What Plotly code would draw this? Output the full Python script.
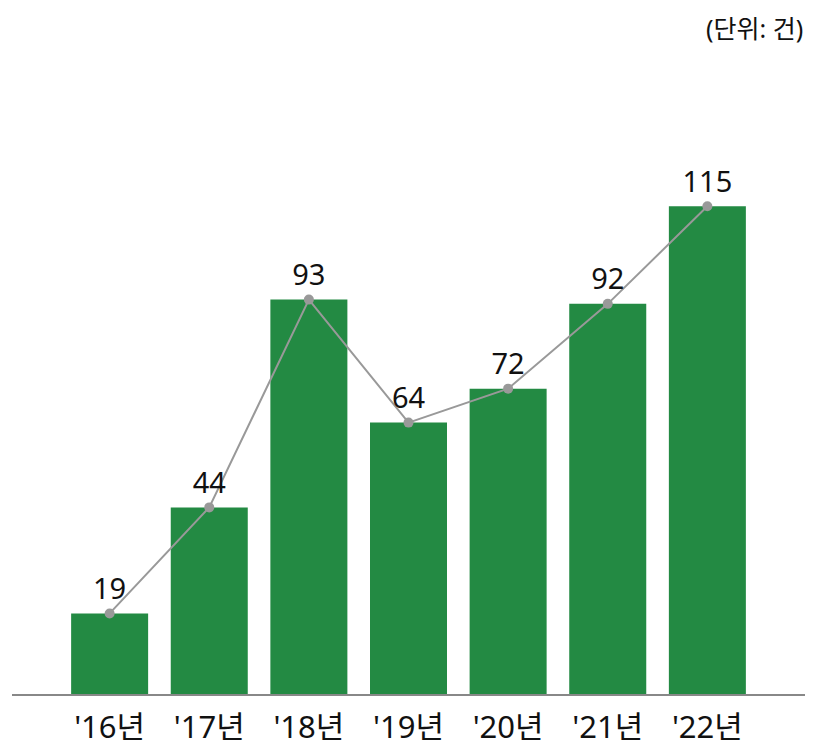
import plotly.graph_objects as go

categories = ["'16년", "'17년", "'18년", "'19년", "'20년", "'21년", "'22년"]
values = [19, 44, 93, 64, 72, 92, 115]
unit_label = "(단위: 건)"

FONT = "Noto Sans, Noto Sans CJK KR"
BAR_COLOR = "#238a43"
LINE_COLOR = "#999999"

fig = go.Figure()
fig.add_trace(go.Bar(
    x=categories, y=values,
    marker=dict(color=BAR_COLOR, line=dict(width=0)),
    hoverinfo="skip",
))
fig.add_trace(go.Scatter(
    x=categories, y=values,
    mode="lines+markers+text",
    line=dict(color=LINE_COLOR, width=2),
    marker=dict(color=LINE_COLOR, size=10),
    text=[str(v) for v in values],
    textposition="top center",
    textfont=dict(family=FONT, size=29, color="#111111"),
    cliponaxis=False,
))

fig.update_layout(
    width=816, height=749,
    margin=dict(l=12, r=11, t=60, b=55),
    paper_bgcolor="white", plot_bgcolor="white",
    showlegend=False,
    bargap=0.227,
    font=dict(family=FONT, color="#111111"),
    xaxis=dict(
        range=[-0.98, 6.98],
        showline=True, linecolor="#888888", linewidth=2,
        showgrid=False, zeroline=False, automargin=False,
        ticks="", tickfont=dict(family=FONT, size=31, color="#111111"),
        ticklabelstandoff=5,
    ),
    yaxis=dict(
        range=[0, 149.5], automargin=False,
        visible=False, showgrid=False, zeroline=False,
    ),
    annotations=[dict(
        text=unit_label, xref="paper", yref="paper",
        x=1.0, y=1.0, xanchor="right", yanchor="middle",
        yshift=32, showarrow=False,
        font=dict(family=FONT, size=25, color="#111111"),
    )],
)

fig.write_html("out.html")
